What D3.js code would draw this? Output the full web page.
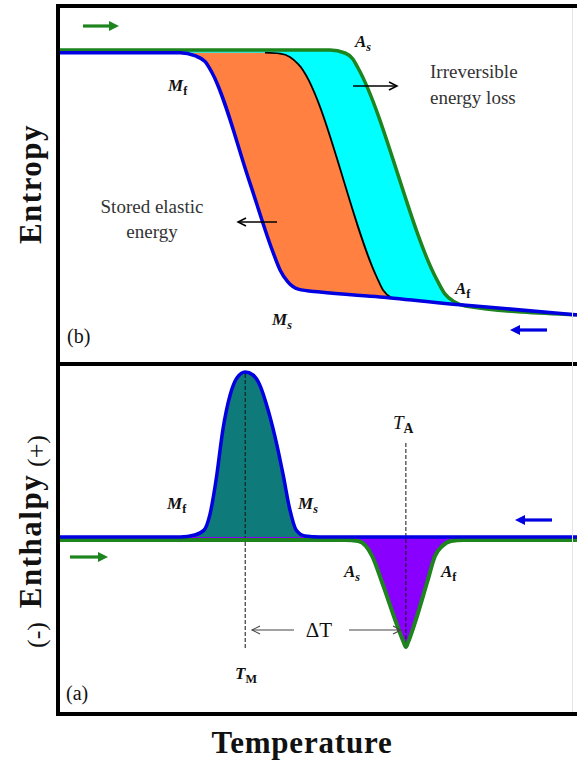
<!DOCTYPE html>
<html>
<head>
<meta charset="utf-8">
<script src="https://cdn.jsdelivr.net/npm/d3@7"></script>
<style>
  body { margin: 0; background: #fff; }
  svg { display: block; }
  text { font-family: "Liberation Serif", "Times New Roman", serif; fill: #111; }
</style>
</head>
<body>
<svg width="577" height="762"></svg>
<script>
// temperature in arbitrary units (0-100), shared by both panels

// (b) entropy vs temperature
// cooling curve (martensite, blue)
const coolT = [0, 23.5, 26.3, 28.3, 29.6, 36.9, 41.2, 42.7, 44.2, 46.2, 50.4, 61.9, 77.9, 100];
const coolS = [9.91, 9.91, 9.81, 9.61, 9.25, 5.57, 3.33, 2.67, 2.27, 2.03, 1.93, 1.77, 1.5, 1.17];
// boundary between stored elastic energy and irreversible loss (black)
const boundT = [39.8, 42.7, 44.6, 46.2, 61.3, 62.5, 64.2];
const boundS = [9.91, 9.88, 9.77, 9.53, 2.43, 2.0, 1.73];
// heating curve (austenite, green)
const heatT = [0, 52.3, 55.2, 56.7, 57.7, 72.9, 74.4, 76.3, 78.3, 100];
const heatS = [10.0, 10.0, 9.9, 9.7, 9.4, 2.33, 1.87, 1.6, 1.47, 1.17];

// (a) enthalpy vs temperature
// exothermic peak on cooling (blue)
const exoT = [0, 23.5, 26.3, 28.1, 29.2, 30.4, 31.7, 33.1, 34.4, 36.0, 37.5, 38.8, 40.4, 42.1, 43.3, 44.6, 45.8, 47.5, 50.4, 100];
const exoH = [0.06, 0.06, 0.18, 0.48, 1.39, 3.49, 6.51, 8.61, 9.64, 10, 9.82, 9.22, 7.71, 5.6, 3.8, 1.69, 0.48, 0.12, 0.06, 0.06];
// endothermic valley on heating (green)
const endoT = [0, 55.2, 57.7, 59.2, 60.4, 62.3, 65.2, 66.5, 66.9, 67.3, 68.5, 71.0, 72.5, 73.9, 75.6, 77.9, 100];
const endoH = [-0.12, -0.12, -0.18, -0.48, -1.08, -2.65, -5.24, -6.3, -6.57, -6.3, -5.24, -2.65, -1.08, -0.48, -0.18, -0.12, -0.12];

const peakT = 36.0, valleyT = 66.9;

const svg = d3.select("svg");
const left = 58, right = 578;
const topY = 6, midY = 364, botY = 714;

const blue = "#0000e0", green = "#1e841e";

const x = d3.scaleLinear().domain([0, 100]).range([left, right]);
const yS = d3.scaleLinear().domain([0, 10]).range([350, 50]);
const yH = d3.scaleLinear().domain([0, 10]).range([538, 372]);

const zip = (ts, vs) => ts.map((t, i) => ({ t: t, v: vs[i] }));
const coolPts = zip(coolT, coolS);
const boundPts = zip(boundT, boundS);
const heatPts = zip(heatT, heatS);
const exoPts = zip(exoT, exoH);
const endoPts = zip(endoT, endoH);

// clip paths for panels
const defs = svg.append("defs");
defs.append("clipPath").attr("id", "clipTop")
  .append("rect").attr("x", left).attr("y", topY).attr("width", right - left).attr("height", midY - topY);
defs.append("clipPath").attr("id", "clipBot")
  .append("rect").attr("x", left).attr("y", midY).attr("width", right - left).attr("height", botY - midY);

// ---------- top panel (b) ----------
const gTop = svg.append("g").attr("clip-path", "url(#clipTop)");

const areaS = d3.area()
  .x(d => x(d.t))
  .y0(midY)
  .y1(d => yS(d.v))
  .curve(d3.curveMonotoneX);
const lineS = d3.line()
  .x(d => x(d.t))
  .y(d => yS(d.v))
  .curve(d3.curveMonotoneX);

gTop.append("path").attr("d", areaS(heatPts)).attr("fill", "#00ffff");
gTop.append("path").attr("d", areaS([{ t: 0, v: boundS[0] }].concat(boundPts))).attr("fill", "#ff8040");
gTop.append("path").attr("d", areaS(coolPts)).attr("fill", "#fff");

gTop.append("path").attr("d", lineS(boundPts))
  .attr("fill", "none").attr("stroke", "#000").attr("stroke-width", 1.8);
gTop.append("path").attr("d", lineS(heatPts))
  .attr("fill", "none").attr("stroke", green).attr("stroke-width", 3.5);
gTop.append("path").attr("d", lineS(coolPts))
  .attr("fill", "none").attr("stroke", blue).attr("stroke-width", 3.5);

// ---------- bottom panel (a) ----------
const gBot = svg.append("g").attr("clip-path", "url(#clipBot)");

const lineH = d3.line()
  .x(d => x(d.t))
  .y(d => yH(d.v))
  .curve(d3.curveMonotoneX);

gBot.append("path")
  .attr("d", d3.area().x(d => x(d.t)).y0(yH(-0.12)).y1(d => yH(d.v)).curve(d3.curveMonotoneX)(exoPts))
  .attr("fill", "#0f7a7a");
gBot.append("path")
  .attr("d", d3.area().x(d => x(d.t)).y0(yH(0.06)).y1(d => yH(d.v)).curve(d3.curveMonotoneX)(endoPts))
  .attr("fill", "#8a00ff");

// dashed guide lines
gBot.append("line")
  .attr("x1", x(peakT)).attr("x2", x(peakT)).attr("y1", yH(10) + 2).attr("y2", 650)
  .attr("stroke", "#111").attr("stroke-width", 1).attr("stroke-dasharray", "4,2");
gBot.append("line")
  .attr("x1", x(valleyT)).attr("x2", x(valleyT)).attr("y1", 443).attr("y2", yH(-6.57))
  .attr("stroke", "#111").attr("stroke-width", 1).attr("stroke-dasharray", "4,2");

gBot.append("path").attr("d", lineH(endoPts))
  .attr("fill", "none").attr("stroke", green).attr("stroke-width", 4);
gBot.append("path").attr("d", lineH(exoPts))
  .attr("fill", "none").attr("stroke", blue).attr("stroke-width", 3.5);

// ---------- frame ----------
const frame = svg.append("g").attr("stroke", "#000").attr("stroke-width", 4);
frame.append("line").attr("x1", left).attr("x2", left).attr("y1", topY - 2).attr("y2", botY + 2);
[topY, midY, botY].forEach(yy => {
  frame.append("line").attr("x1", left - 2).attr("x2", 577).attr("y1", yy).attr("y2", yy);
});
svg.append("line").attr("x1", 572.5).attr("x2", 572.5).attr("y1", topY + 2).attr("y2", botY - 2)
  .attr("stroke", "#e4e4e4").attr("stroke-width", 1);

// ---------- arrows ----------
function fatArrow(x1, x2, y, color) {
  const dir = Math.sign(x2 - x1);
  svg.append("line")
    .attr("x1", x1).attr("x2", x2 - dir * 6).attr("y1", y).attr("y2", y)
    .attr("stroke", color).attr("stroke-width", 3.2);
  svg.append("path")
    .attr("d", `M${x2},${y} L${x2 - dir * 10},${y - 5} L${x2 - dir * 10},${y + 5} Z`)
    .attr("fill", color);
}
function thinArrow(x1, x2, y, color, w) {
  const dir = Math.sign(x2 - x1);
  svg.append("line")
    .attr("x1", x1).attr("x2", x2).attr("y1", y).attr("y2", y)
    .attr("stroke", color).attr("stroke-width", w);
  svg.append("path")
    .attr("d", `M${x2 - dir * 8},${y - 4} L${x2},${y} L${x2 - dir * 8},${y + 4}`)
    .attr("fill", "none").attr("stroke", color).attr("stroke-width", w);
}

fatArrow(83, 119, 26, green);
fatArrow(547, 510, 330, blue);
fatArrow(70, 108, 557, green);
fatArrow(552, 515, 520, blue);

thinArrow(353, 397, 86, "#000", 1.5);
thinArrow(277, 238, 222, "#000", 1.5);
thinArrow(294, 252, 630, "#444", 1.1);
thinArrow(349, 401, 630, "#444", 1.1);

// ---------- labels ----------
function symLabel(xp, yp, main, sub, size, subItalic, mainBold) {
  const t = svg.append("text").attr("x", xp).attr("y", yp).style("font-size", size + "px");
  t.append("tspan").text(main)
    .style("font-style", "italic").style("font-weight", mainBold === false ? "normal" : "bold");
  t.append("tspan").text(sub).attr("dy", 4)
    .style("font-size", (size * 0.72) + "px")
    .style("font-style", subItalic ? "italic" : "normal")
    .style("font-weight", "bold");
}

// top panel
symLabel(168, 91, "M", "f", 17, false);
symLabel(355, 47, "A", "s", 17, true);
symLabel(272, 325, "M", "s", 17, true);
symLabel(455, 294, "A", "f", 17, false);

// bottom panel
symLabel(167, 509, "M", "f", 17, false);
symLabel(298, 509, "M", "s", 17, true);
symLabel(344, 577, "A", "s", 17, true);
symLabel(441, 577, "A", "f", 17, false);
symLabel(235, 679, "T", "M", 17, false);
symLabel(393, 429, "T", "A", 19, false, false);

const plain = (xp, yp, txt, size, anchor) =>
  svg.append("text").attr("x", xp).attr("y", yp).attr("text-anchor", anchor || "start")
    .style("font-size", size + "px").text(txt);

plain(152, 213, "Stored elastic", 19, "middle").style("fill", "#333");
plain(152, 238, "energy", 19, "middle").style("fill", "#333");
plain(430, 78, "Irreversible", 19).style("fill", "#333");
plain(430, 104, "energy loss", 19).style("fill", "#333");

plain(67, 343, "(b)", 20);
plain(66, 700, "(a)", 20);
plain(319, 637, "\u0394T", 21, "middle");

// axis titles
svg.append("text")
  .attr("transform", "translate(41,184) rotate(-90)")
  .attr("text-anchor", "middle")
  .style("font-size", "31px").style("font-weight", "bold").style("letter-spacing", "1.5px")
  .text("Entropy");
svg.append("text")
  .attr("transform", "translate(41,541) rotate(-90)")
  .attr("text-anchor", "middle")
  .style("font-size", "31px").style("font-weight", "bold").style("letter-spacing", "1.5px")
  .text("Enthalpy");
svg.append("text")
  .attr("transform", "translate(45,451) rotate(-90)")
  .attr("text-anchor", "middle")
  .style("font-size", "26px")
  .text("(+)");
svg.append("text")
  .attr("transform", "translate(45,635) rotate(-90)")
  .attr("text-anchor", "middle")
  .style("font-size", "26px")
  .text("(-)");
svg.append("text")
  .attr("x", 302).attr("y", 753)
  .attr("text-anchor", "middle")
  .style("font-size", "31px").style("font-weight", "bold").style("letter-spacing", "0.8px")
  .text("Temperature");
</script>
</body>
</html>
